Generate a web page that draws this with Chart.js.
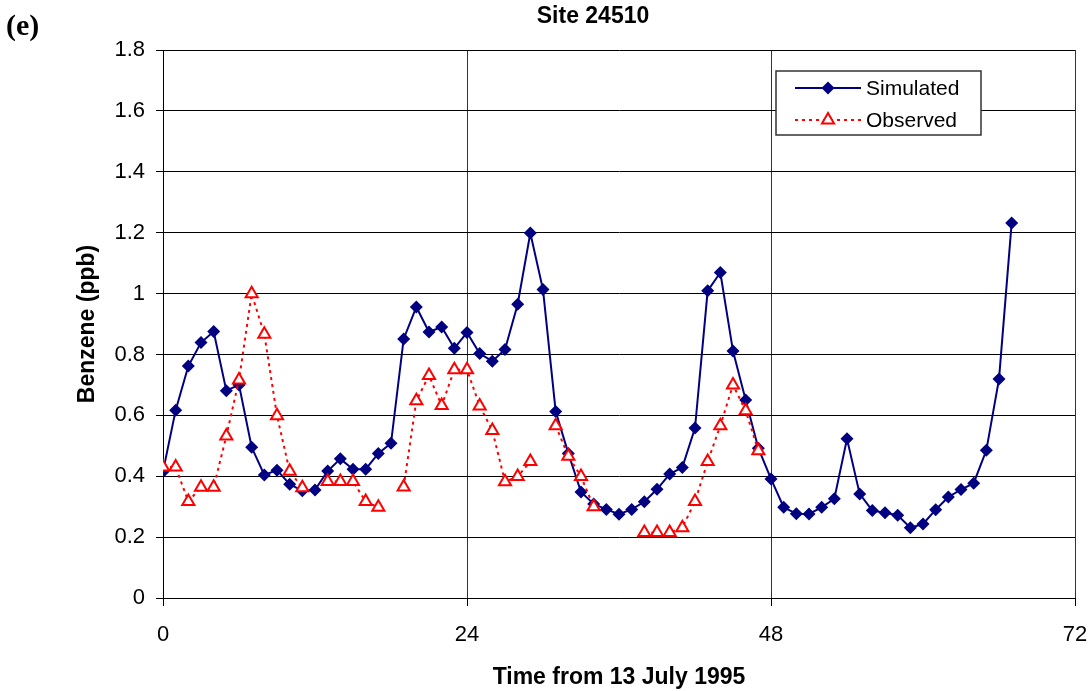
<!DOCTYPE html>
<html>
<head>
<meta charset="utf-8">
<script src="https://cdn.jsdelivr.net/npm/chart.js@4/dist/chart.umd.min.js"></script>
<style>
  html, body { margin: 0; padding: 0; background: #fff; }
  #wrap { width: 1092px; height: 691px; position: relative; }
</style>
</head>
<body>
<div id="wrap"><canvas id="c" width="1092" height="691"></canvas></div>
<script>
// Hourly benzene concentrations (ppb), hour 0 = start of 13 July 1995
const simulatedHours = [];
for (let h = 0; h <= 67; h++) simulatedHours.push(h);

const simulated = [
  0.415, 0.617, 0.762, 0.839, 0.875, 0.681, 0.700, 0.495, 0.404, 0.420,
  0.374, 0.352, 0.355, 0.417, 0.457, 0.423, 0.423, 0.475, 0.508, 0.851,
  0.956, 0.874, 0.890, 0.820, 0.872, 0.803, 0.778, 0.816, 0.965, 1.199,
  1.013, 0.613, 0.475, 0.348, 0.309, 0.291, 0.275, 0.291, 0.316, 0.357,
  0.407, 0.429, 0.558, 1.009, 1.069, 0.811, 0.650, 0.492, 0.391, 0.298,
  0.277, 0.276, 0.298, 0.326, 0.523, 0.342, 0.287, 0.280, 0.272, 0.231,
  0.243, 0.290, 0.332, 0.356, 0.377, 0.485, 0.719, 1.232
];

// Observed samples; null = no measurement for that hour
const observed = [
  0.430, 0.430, 0.317, 0.364, 0.364, 0.532, 0.716, 0.999, 0.866, 0.599,
  0.416, 0.362, null,  0.383, 0.383, 0.383, 0.317, 0.298, null,  0.365,
  0.648, 0.731, 0.632, 0.750, 0.750, 0.631, 0.550, 0.382, 0.399, 0.448,
  null,  0.566, 0.466, 0.399, 0.300, null,  null,  null,  0.215, 0.215,
  0.215, 0.231, 0.317, 0.448, 0.566, 0.700, 0.615, 0.484
];

const seriesNames = ['Simulated', 'Observed'];
const chartTitle = 'Site 24510';
const panelLabel = '(e)';
const xTitle = 'Time from 13 July 1995';
const yTitle = 'Benzene (ppb)';
const xTicks = [0, 24, 48, 72];
const yTicks = [0, 0.2, 0.4, 0.6, 0.8, 1, 1.2, 1.4, 1.6, 1.8];

const toPoints = (vals) => vals.map((v, i) => ({ x: simulatedHours[i], y: v }));

const SANS = '"Liberation Sans", Arial, sans-serif';
const NAVY = '#000080';
const RED = '#FF0000';

// marker shapes used in the legend box
function drawDiamond(ctx, x, y, r, fill) {
  ctx.beginPath();
  ctx.moveTo(x, y - r); ctx.lineTo(x + r, y); ctx.lineTo(x, y + r); ctx.lineTo(x - r, y);
  ctx.closePath();
  ctx.fillStyle = fill; ctx.fill();
}
function drawTriangle(ctx, x, y, r, stroke, lw) {
  ctx.beginPath();
  ctx.moveTo(x, y - r);
  ctx.lineTo(x + r * Math.sin(Math.PI / 3), y + r / 2);
  ctx.lineTo(x - r * Math.sin(Math.PI / 3), y + r / 2);
  ctx.closePath();
  ctx.fillStyle = '#fff'; ctx.fill();
  ctx.lineWidth = lw; ctx.strokeStyle = stroke; ctx.stroke();
}

const decorations = {
  id: 'decorations',
  afterDraw(chart) {
    const ctx = chart.ctx;
    ctx.save();
    // panel label and chart title
    ctx.fillStyle = '#000';
    ctx.textBaseline = 'middle';
    ctx.textAlign = 'left';
    ctx.font = 'bold 30px "Liberation Serif", "Times New Roman", serif';
    ctx.fillText(panelLabel, 6, 27);
    ctx.textAlign = 'center';
    ctx.font = 'bold 23px ' + SANS;
    ctx.fillText(chartTitle, 593, 17);

    // legend box
    const bx = 776, by = 71, bw = 205, bh = 64;
    ctx.fillStyle = '#fff';
    ctx.fillRect(bx, by, bw, bh);
    ctx.lineWidth = 1.5;
    ctx.strokeStyle = '#333';
    ctx.strokeRect(bx, by, bw, bh);
    const ds = chart.data.datasets;
    const rows = [88, 120];
    ds.forEach((d, i) => {
      const y = rows[i];
      ctx.save();
      ctx.lineWidth = d.borderWidth;
      ctx.strokeStyle = d.borderColor;
      ctx.setLineDash(d.borderDash || []);
      ctx.beginPath();
      ctx.moveTo(795, y); ctx.lineTo(861, y);
      ctx.stroke();
      ctx.setLineDash([]);
      if (d.pointStyle === 'rectRot') drawDiamond(ctx, 828, y, d.pointRadius, d.pointBackgroundColor);
      else drawTriangle(ctx, 828, y, d.pointRadius, d.pointBorderColor, d.pointBorderWidth);
      ctx.restore();
      ctx.fillStyle = '#000';
      ctx.textAlign = 'left';
      ctx.textBaseline = 'middle';
      ctx.font = '21px ' + SANS;
      ctx.fillText(d.label, 866, y + 1);
    });
    ctx.restore();
  }
};

new Chart(document.getElementById('c'), {
  type: 'line',
  data: {
    datasets: [
      {
        label: seriesNames[0],
        data: toPoints(simulated),
        borderColor: NAVY,
        borderWidth: 2,
        pointStyle: 'rectRot',
        pointRadius: 6.5,
        pointHoverRadius: 6.5,
        pointBackgroundColor: NAVY,
        pointBorderColor: NAVY,
        pointBorderWidth: 0,
        tension: 0,
        order: 2
      },
      {
        label: seriesNames[1],
        data: toPoints(observed),
        borderColor: RED,
        borderWidth: 2,
        borderDash: [3, 4],
        pointStyle: 'triangle',
        pointRadius: 7,
        pointHoverRadius: 7,
        pointBackgroundColor: '#fff',
        pointBorderColor: RED,
        pointBorderWidth: 2,
        spanGaps: false,
        tension: 0,
        order: 1
      }
    ]
  },
  options: {
    responsive: false,
    animation: false,
    events: [],
    layout: { padding: { top: 50, right: 17, left: 0, bottom: 0 } },
    plugins: {
      legend: { display: false },
      title: { display: false },
      tooltip: { enabled: false }
    },
    scales: {
      x: {
        type: 'linear',
        min: 0, max: 72,
        afterBuildTicks: (s) => { s.ticks = xTicks.map(v => ({ value: v })); },
        afterFit: (s) => { s.height = 93; s.paddingLeft = 0; s.paddingRight = 0; },
        ticks: {
          color: '#000',
          font: { family: SANS, size: 22 },
          padding: 16,
          maxRotation: 0
        },
        grid: { color: '#333', lineWidth: 1, tickLength: 8, tickColor: '#000' },
        border: { color: '#000', width: 1 },
        title: {
          display: true, text: xTitle, color: '#000',
          font: { family: SANS, size: 23, weight: 'bold' },
          padding: { top: 0, bottom: 0 }
        }
      },
      y: {
        type: 'linear',
        min: 0, max: 1.8,
        afterBuildTicks: (s) => { s.ticks = yTicks.map(v => ({ value: v })); },
        afterFit: (s) => { s.width = 163; s.paddingTop = 0; s.paddingBottom = 0; },
        ticks: {
          color: '#000',
          font: { family: SANS, size: 22 },
          padding: 11,
          callback: (v) => String(v)
        },
        grid: { color: '#000', lineWidth: 1, tickLength: 7, tickColor: '#000' },
        border: { color: '#000', width: 1 },
        title: {
          display: true, text: yTitle, color: '#000',
          font: { family: SANS, size: 23, weight: 'bold' },
          padding: { top: 74, bottom: 0 }
        }
      }
    }
  },
  plugins: [decorations]
});
</script>
</body>
</html>
